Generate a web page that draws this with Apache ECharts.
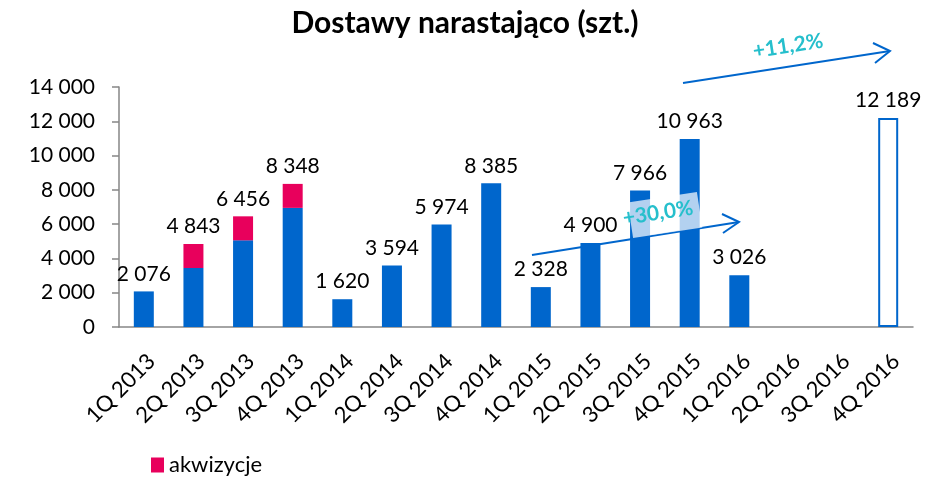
<!DOCTYPE html>
<html>
<head>
<meta charset="utf-8">
<script src="https://cdn.jsdelivr.net/npm/echarts@6/dist/echarts.min.js"></script>
<style>
  html, body { margin: 0; padding: 0; background: #fff; }
  #chart { width: 930px; height: 477px; }
</style>
</head>
<body>
<div id="chart"></div>
<script>
var categories = ['1Q 2013', '2Q 2013', '3Q 2013', '4Q 2013', '1Q 2014', '2Q 2014', '3Q 2014', '4Q 2014',
                  '1Q 2015', '2Q 2015', '3Q 2015', '4Q 2015', '1Q 2016', '2Q 2016', '3Q 2016', '4Q 2016'];
// dostawy bez akwizycji (czesc niebieska)
var deliveries = [2076, 3443, 5056, 6948, 1620, 3594, 5974, 8385, 2328, 4900, 7966, 10963, 3026, null, null, 12189];
// akwizycje (czesc rozowa)
var acquisitions = [null, 1400, 1400, 1400, null, null, null, null, null, null, null, null, null, null, null, null];
// etykiety nad slupkami
var totals = [2076, 4843, 6456, 8348, 1620, 3594, 5974, 8385, 2328, 4900, 7966, 10963, 3026, null, null, 12189];
var forecastIndex = 15;
var yTicks = { min: 0, max: 14000, interval: 2000 };

var blue = '#0066CC';
var pink = '#E8005C';
var teal = '#26BFCC';
var font = 'Lato';

function fmt(v) {
    return String(v).replace(/\B(?=(\d{3})+(?!\d))/g, ' ');
}

var topLabel = {
    show: true,
    position: 'top',
    distance: 7,
    fontFamily: font,
    fontSize: 21,
    color: '#000'
};

var baseData = deliveries.map(function (v, i) {
    var item = { value: v };
    if (acquisitions[i]) {
        item.label = { show: false };
    } else if (v != null) {
        item.label = Object.assign({}, topLabel, { formatter: fmt(totals[i]) });
    }
    if (i === forecastIndex) {
        item.itemStyle = { color: '#fff', borderColor: blue, borderWidth: 2 };
    }
    return item;
});

var acqData = acquisitions.map(function (v, i) {
    var item = { value: v };
    if (v) {
        item.label = Object.assign({}, topLabel, { formatter: fmt(totals[i]) });
    }
    return item;
});

var chart = echarts.init(document.getElementById('chart'));
chart.setOption({
    animation: false,
    title: {
        text: 'Dostawy narastająco (szt.)',
        left: 'center',
        top: 3,
        textStyle: { fontFamily: font, fontSize: 30, fontWeight: 'bold', color: '#000' }
    },
    legend: {
        data: ['akwizycje'],
        left: 146,
        top: 449,
        icon: 'rect',
        itemWidth: 13,
        itemHeight: 15,
        itemGap: 6,
        textStyle: { fontFamily: font, fontSize: 22, color: '#000' }
    },
    grid: { left: 119, right: 17, top: 87, bottom: 150 },
    xAxis: {
        type: 'category',
        data: categories,
        axisLine: { lineStyle: { color: '#868686', width: 1.5 } },
        axisTick: { length: 6, lineStyle: { color: '#868686', width: 1.5 } },
        axisLabel: {
            rotate: 45,
            interval: 0,
            margin: 23,
            verticalAlign: 'top',
            fontFamily: font,
            fontSize: 22,
            color: '#000'
        }
    },
    yAxis: {
        type: 'value',
        min: yTicks.min,
        max: yTicks.max,
        interval: yTicks.interval,
        axisLine: { show: true, lineStyle: { color: '#868686', width: 1.5 } },
        axisTick: { show: true, length: 7, lineStyle: { color: '#868686', width: 1.5 } },
        splitLine: { show: false },
        axisLabel: {
            margin: 24,
            fontFamily: font,
            fontSize: 21,
            color: '#000',
            formatter: fmt
        }
    },
    series: [
        {
            name: 'dostawy',
            type: 'bar',
            stack: 'total',
            barWidth: 20,
            itemStyle: { color: blue },
            data: baseData
        },
        {
            name: 'akwizycje',
            type: 'bar',
            stack: 'total',
            barWidth: 20,
            itemStyle: { color: pink },
            data: acqData
        }
    ],
    graphic: [
        // strzalka +30,0%
        { type: 'line', z: 100, shape: { x1: 532, y1: 255, x2: 739, y2: 222 }, style: { stroke: blue, lineWidth: 2 } },
        { type: 'polyline', z: 100, shape: { points: [[722, 214], [739, 222], [723, 233]] }, style: { stroke: blue, lineWidth: 2, fill: null } },
        { type: 'rect', z: 100, x: 665, y: 215, rotation: 0.15, shape: { x: -35, y: -18, width: 70, height: 36 },
          style: { fill: 'rgba(255,255,255,0.7)' } },
        { type: 'text', z: 101, x: 658, y: 213, rotation: 0.15,
          style: { text: '+30,0%', fill: teal, font: 'bold 21px Lato', align: 'center', verticalAlign: 'middle' } },
        // strzalka +11,2%
        { type: 'line', z: 100, shape: { x1: 683, y1: 83, x2: 890, y2: 51 }, style: { stroke: blue, lineWidth: 2 } },
        { type: 'polyline', z: 100, shape: { points: [[873, 43], [890, 51], [875, 63]] }, style: { stroke: blue, lineWidth: 2, fill: null } },
        { type: 'text', z: 101, x: 788, y: 46, rotation: 0.15,
          style: { text: '+11,2%', fill: teal, font: 'bold 21px Lato', align: 'center', verticalAlign: 'middle' } }
    ]
});
</script>
</body>
</html>
